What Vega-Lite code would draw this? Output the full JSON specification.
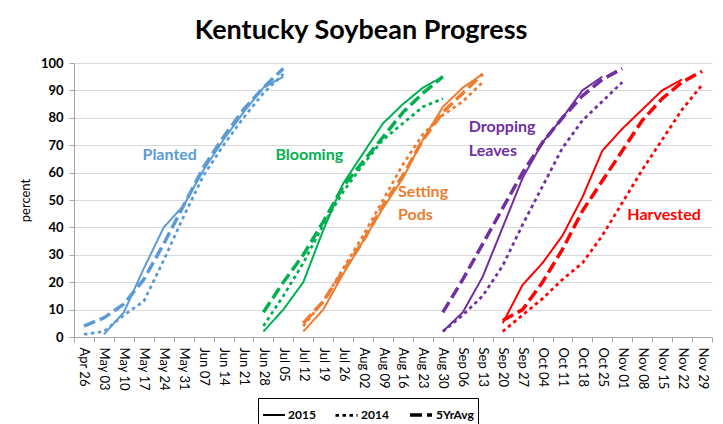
{
  "$schema": "https://vega.github.io/schema/vega-lite/v6.json",
  "width": 638,
  "height": 274,
  "autosize": {"type": "none"},
  "padding": {"left": 74, "top": 63, "right": 11, "bottom": 87},
  "background": "white",
  "title": {"text": "Kentucky Soybean Progress", "font": "Lato", "fontSize": 27, "fontWeight": "bold", "color": "black", "anchor": "middle", "dx": -32, "offset": 12},
  "config": {"view": {"stroke": null}, "font": "Lato"},
  "datasets": {
    "progress": [
      {"stage": "Planted", "series": "5YrAvg", "week": "Apr 26", "pct": 4},
      {"stage": "Planted", "series": "5YrAvg", "week": "May 03", "pct": 7},
      {"stage": "Planted", "series": "5YrAvg", "week": "May 10", "pct": 12},
      {"stage": "Planted", "series": "5YrAvg", "week": "May 17", "pct": 21},
      {"stage": "Planted", "series": "5YrAvg", "week": "May 24", "pct": 34},
      {"stage": "Planted", "series": "5YrAvg", "week": "May 31", "pct": 48},
      {"stage": "Planted", "series": "5YrAvg", "week": "Jun 07", "pct": 62},
      {"stage": "Planted", "series": "5YrAvg", "week": "Jun 14", "pct": 73},
      {"stage": "Planted", "series": "5YrAvg", "week": "Jun 21", "pct": 83},
      {"stage": "Planted", "series": "5YrAvg", "week": "Jun 28", "pct": 91},
      {"stage": "Planted", "series": "5YrAvg", "week": "Jul 05", "pct": 98},
      {"stage": "Planted", "series": "2015", "week": "May 03", "pct": 1},
      {"stage": "Planted", "series": "2015", "week": "May 10", "pct": 9},
      {"stage": "Planted", "series": "2015", "week": "May 17", "pct": 25},
      {"stage": "Planted", "series": "2015", "week": "May 24", "pct": 40},
      {"stage": "Planted", "series": "2015", "week": "May 31", "pct": 48},
      {"stage": "Planted", "series": "2015", "week": "Jun 07", "pct": 61},
      {"stage": "Planted", "series": "2015", "week": "Jun 14", "pct": 72},
      {"stage": "Planted", "series": "2015", "week": "Jun 21", "pct": 82},
      {"stage": "Planted", "series": "2015", "week": "Jun 28", "pct": 91},
      {"stage": "Planted", "series": "2015", "week": "Jul 05", "pct": 95},
      {"stage": "Planted", "series": "2014", "week": "Apr 26", "pct": 1},
      {"stage": "Planted", "series": "2014", "week": "May 03", "pct": 2},
      {"stage": "Planted", "series": "2014", "week": "May 10", "pct": 8},
      {"stage": "Planted", "series": "2014", "week": "May 17", "pct": 13},
      {"stage": "Planted", "series": "2014", "week": "May 24", "pct": 28},
      {"stage": "Planted", "series": "2014", "week": "May 31", "pct": 44},
      {"stage": "Planted", "series": "2014", "week": "Jun 07", "pct": 59},
      {"stage": "Planted", "series": "2014", "week": "Jun 14", "pct": 70},
      {"stage": "Planted", "series": "2014", "week": "Jun 21", "pct": 80},
      {"stage": "Planted", "series": "2014", "week": "Jun 28", "pct": 89},
      {"stage": "Planted", "series": "2014", "week": "Jul 05", "pct": 96},

      {"stage": "Blooming", "series": "5YrAvg", "week": "Jun 28", "pct": 9},
      {"stage": "Blooming", "series": "5YrAvg", "week": "Jul 05", "pct": 20},
      {"stage": "Blooming", "series": "5YrAvg", "week": "Jul 12", "pct": 30},
      {"stage": "Blooming", "series": "5YrAvg", "week": "Jul 19", "pct": 42},
      {"stage": "Blooming", "series": "5YrAvg", "week": "Jul 26", "pct": 55},
      {"stage": "Blooming", "series": "5YrAvg", "week": "Aug 02", "pct": 64},
      {"stage": "Blooming", "series": "5YrAvg", "week": "Aug 09", "pct": 73},
      {"stage": "Blooming", "series": "5YrAvg", "week": "Aug 16", "pct": 82},
      {"stage": "Blooming", "series": "5YrAvg", "week": "Aug 23", "pct": 89},
      {"stage": "Blooming", "series": "5YrAvg", "week": "Aug 30", "pct": 95},
      {"stage": "Blooming", "series": "2015", "week": "Jun 28", "pct": 2},
      {"stage": "Blooming", "series": "2015", "week": "Jul 05", "pct": 10},
      {"stage": "Blooming", "series": "2015", "week": "Jul 12", "pct": 20},
      {"stage": "Blooming", "series": "2015", "week": "Jul 19", "pct": 39},
      {"stage": "Blooming", "series": "2015", "week": "Jul 26", "pct": 56},
      {"stage": "Blooming", "series": "2015", "week": "Aug 02", "pct": 67},
      {"stage": "Blooming", "series": "2015", "week": "Aug 09", "pct": 78},
      {"stage": "Blooming", "series": "2015", "week": "Aug 16", "pct": 85},
      {"stage": "Blooming", "series": "2015", "week": "Aug 23", "pct": 91},
      {"stage": "Blooming", "series": "2015", "week": "Aug 30", "pct": 95},
      {"stage": "Blooming", "series": "2014", "week": "Jun 28", "pct": 4},
      {"stage": "Blooming", "series": "2014", "week": "Jul 05", "pct": 15},
      {"stage": "Blooming", "series": "2014", "week": "Jul 12", "pct": 27},
      {"stage": "Blooming", "series": "2014", "week": "Jul 19", "pct": 41},
      {"stage": "Blooming", "series": "2014", "week": "Jul 26", "pct": 53},
      {"stage": "Blooming", "series": "2014", "week": "Aug 02", "pct": 63},
      {"stage": "Blooming", "series": "2014", "week": "Aug 09", "pct": 72},
      {"stage": "Blooming", "series": "2014", "week": "Aug 16", "pct": 78},
      {"stage": "Blooming", "series": "2014", "week": "Aug 23", "pct": 84},
      {"stage": "Blooming", "series": "2014", "week": "Aug 30", "pct": 87},

      {"stage": "Setting Pods", "series": "5YrAvg", "week": "Jul 12", "pct": 5},
      {"stage": "Setting Pods", "series": "5YrAvg", "week": "Jul 19", "pct": 13},
      {"stage": "Setting Pods", "series": "5YrAvg", "week": "Jul 26", "pct": 24},
      {"stage": "Setting Pods", "series": "5YrAvg", "week": "Aug 02", "pct": 35},
      {"stage": "Setting Pods", "series": "5YrAvg", "week": "Aug 09", "pct": 48},
      {"stage": "Setting Pods", "series": "5YrAvg", "week": "Aug 16", "pct": 59},
      {"stage": "Setting Pods", "series": "5YrAvg", "week": "Aug 23", "pct": 72},
      {"stage": "Setting Pods", "series": "5YrAvg", "week": "Aug 30", "pct": 82},
      {"stage": "Setting Pods", "series": "5YrAvg", "week": "Sep 06", "pct": 89},
      {"stage": "Setting Pods", "series": "5YrAvg", "week": "Sep 13", "pct": 96},
      {"stage": "Setting Pods", "series": "2015", "week": "Jul 12", "pct": 2},
      {"stage": "Setting Pods", "series": "2015", "week": "Jul 19", "pct": 10},
      {"stage": "Setting Pods", "series": "2015", "week": "Jul 26", "pct": 23},
      {"stage": "Setting Pods", "series": "2015", "week": "Aug 02", "pct": 35},
      {"stage": "Setting Pods", "series": "2015", "week": "Aug 09", "pct": 47},
      {"stage": "Setting Pods", "series": "2015", "week": "Aug 16", "pct": 58},
      {"stage": "Setting Pods", "series": "2015", "week": "Aug 23", "pct": 72},
      {"stage": "Setting Pods", "series": "2015", "week": "Aug 30", "pct": 84},
      {"stage": "Setting Pods", "series": "2015", "week": "Sep 06", "pct": 91},
      {"stage": "Setting Pods", "series": "2015", "week": "Sep 13", "pct": 96},
      {"stage": "Setting Pods", "series": "2014", "week": "Jul 12", "pct": 4},
      {"stage": "Setting Pods", "series": "2014", "week": "Jul 19", "pct": 13},
      {"stage": "Setting Pods", "series": "2014", "week": "Jul 26", "pct": 25},
      {"stage": "Setting Pods", "series": "2014", "week": "Aug 02", "pct": 37},
      {"stage": "Setting Pods", "series": "2014", "week": "Aug 09", "pct": 50},
      {"stage": "Setting Pods", "series": "2014", "week": "Aug 16", "pct": 63},
      {"stage": "Setting Pods", "series": "2014", "week": "Aug 23", "pct": 74},
      {"stage": "Setting Pods", "series": "2014", "week": "Aug 30", "pct": 81},
      {"stage": "Setting Pods", "series": "2014", "week": "Sep 06", "pct": 86},
      {"stage": "Setting Pods", "series": "2014", "week": "Sep 13", "pct": 93},

      {"stage": "Dropping Leaves", "series": "5YrAvg", "week": "Aug 30", "pct": 9},
      {"stage": "Dropping Leaves", "series": "5YrAvg", "week": "Sep 06", "pct": 21},
      {"stage": "Dropping Leaves", "series": "5YrAvg", "week": "Sep 13", "pct": 34},
      {"stage": "Dropping Leaves", "series": "5YrAvg", "week": "Sep 20", "pct": 47},
      {"stage": "Dropping Leaves", "series": "5YrAvg", "week": "Sep 27", "pct": 60},
      {"stage": "Dropping Leaves", "series": "5YrAvg", "week": "Oct 04", "pct": 71},
      {"stage": "Dropping Leaves", "series": "5YrAvg", "week": "Oct 11", "pct": 80},
      {"stage": "Dropping Leaves", "series": "5YrAvg", "week": "Oct 18", "pct": 88},
      {"stage": "Dropping Leaves", "series": "5YrAvg", "week": "Oct 25", "pct": 94},
      {"stage": "Dropping Leaves", "series": "5YrAvg", "week": "Nov 01", "pct": 98},
      {"stage": "Dropping Leaves", "series": "2015", "week": "Aug 30", "pct": 2},
      {"stage": "Dropping Leaves", "series": "2015", "week": "Sep 06", "pct": 9},
      {"stage": "Dropping Leaves", "series": "2015", "week": "Sep 13", "pct": 22},
      {"stage": "Dropping Leaves", "series": "2015", "week": "Sep 20", "pct": 40},
      {"stage": "Dropping Leaves", "series": "2015", "week": "Sep 27", "pct": 58},
      {"stage": "Dropping Leaves", "series": "2015", "week": "Oct 04", "pct": 71},
      {"stage": "Dropping Leaves", "series": "2015", "week": "Oct 11", "pct": 80},
      {"stage": "Dropping Leaves", "series": "2015", "week": "Oct 18", "pct": 90},
      {"stage": "Dropping Leaves", "series": "2015", "week": "Oct 25", "pct": 95},
      {"stage": "Dropping Leaves", "series": "2014", "week": "Aug 30", "pct": 2},
      {"stage": "Dropping Leaves", "series": "2014", "week": "Sep 06", "pct": 8},
      {"stage": "Dropping Leaves", "series": "2014", "week": "Sep 13", "pct": 15},
      {"stage": "Dropping Leaves", "series": "2014", "week": "Sep 20", "pct": 26},
      {"stage": "Dropping Leaves", "series": "2014", "week": "Sep 27", "pct": 41},
      {"stage": "Dropping Leaves", "series": "2014", "week": "Oct 04", "pct": 55},
      {"stage": "Dropping Leaves", "series": "2014", "week": "Oct 11", "pct": 69},
      {"stage": "Dropping Leaves", "series": "2014", "week": "Oct 18", "pct": 79},
      {"stage": "Dropping Leaves", "series": "2014", "week": "Oct 25", "pct": 86},
      {"stage": "Dropping Leaves", "series": "2014", "week": "Nov 01", "pct": 93},

      {"stage": "Harvested", "series": "5YrAvg", "week": "Sep 20", "pct": 6},
      {"stage": "Harvested", "series": "5YrAvg", "week": "Sep 27", "pct": 10},
      {"stage": "Harvested", "series": "5YrAvg", "week": "Oct 04", "pct": 20},
      {"stage": "Harvested", "series": "5YrAvg", "week": "Oct 11", "pct": 32},
      {"stage": "Harvested", "series": "5YrAvg", "week": "Oct 18", "pct": 46},
      {"stage": "Harvested", "series": "5YrAvg", "week": "Oct 25", "pct": 57},
      {"stage": "Harvested", "series": "5YrAvg", "week": "Nov 01", "pct": 68},
      {"stage": "Harvested", "series": "5YrAvg", "week": "Nov 08", "pct": 79},
      {"stage": "Harvested", "series": "5YrAvg", "week": "Nov 15", "pct": 87},
      {"stage": "Harvested", "series": "5YrAvg", "week": "Nov 22", "pct": 93},
      {"stage": "Harvested", "series": "5YrAvg", "week": "Nov 29", "pct": 97},
      {"stage": "Harvested", "series": "2015", "week": "Sep 20", "pct": 5},
      {"stage": "Harvested", "series": "2015", "week": "Sep 27", "pct": 19},
      {"stage": "Harvested", "series": "2015", "week": "Oct 04", "pct": 27},
      {"stage": "Harvested", "series": "2015", "week": "Oct 11", "pct": 37},
      {"stage": "Harvested", "series": "2015", "week": "Oct 18", "pct": 51},
      {"stage": "Harvested", "series": "2015", "week": "Oct 25", "pct": 68},
      {"stage": "Harvested", "series": "2015", "week": "Nov 01", "pct": 76},
      {"stage": "Harvested", "series": "2015", "week": "Nov 08", "pct": 83},
      {"stage": "Harvested", "series": "2015", "week": "Nov 15", "pct": 90},
      {"stage": "Harvested", "series": "2015", "week": "Nov 22", "pct": 94},
      {"stage": "Harvested", "series": "2014", "week": "Sep 20", "pct": 2},
      {"stage": "Harvested", "series": "2014", "week": "Sep 27", "pct": 8},
      {"stage": "Harvested", "series": "2014", "week": "Oct 04", "pct": 14},
      {"stage": "Harvested", "series": "2014", "week": "Oct 11", "pct": 21},
      {"stage": "Harvested", "series": "2014", "week": "Oct 18", "pct": 27},
      {"stage": "Harvested", "series": "2014", "week": "Oct 25", "pct": 37},
      {"stage": "Harvested", "series": "2014", "week": "Nov 01", "pct": 49},
      {"stage": "Harvested", "series": "2014", "week": "Nov 08", "pct": 61},
      {"stage": "Harvested", "series": "2014", "week": "Nov 15", "pct": 72},
      {"stage": "Harvested", "series": "2014", "week": "Nov 22", "pct": 83},
      {"stage": "Harvested", "series": "2014", "week": "Nov 29", "pct": 92}
    ],
    "labels": [
      {"stage": "Planted", "text": "Planted", "week": "May 24", "pct": 66.4},
      {"stage": "Blooming", "text": "Blooming", "week": "Jul 12", "pct": 66.4},
      {"stage": "Setting Pods", "text": "Setting", "week": "Aug 16", "pct": 53},
      {"stage": "Setting Pods", "text": "Pods", "week": "Aug 16", "pct": 44.5},
      {"stage": "Dropping Leaves", "text": "Dropping", "week": "Sep 06", "pct": 76.6},
      {"stage": "Dropping Leaves", "text": "Leaves", "week": "Sep 06", "pct": 68},
      {"stage": "Harvested", "text": "Harvested", "week": "Nov 01", "pct": 44.5}
    ]
  },
  "encoding": {
    "x": {
      "field": "week", "type": "nominal", "sort": null,
      "scale": {"type": "band", "paddingInner": 0, "paddingOuter": 0,
        "domain": ["Apr 26","May 03","May 10","May 17","May 24","May 31","Jun 07","Jun 14","Jun 21","Jun 28","Jul 05","Jul 12","Jul 19","Jul 26","Aug 02","Aug 09","Aug 16","Aug 23","Aug 30","Sep 06","Sep 13","Sep 20","Sep 27","Oct 04","Oct 11","Oct 18","Oct 25","Nov 01","Nov 08","Nov 15","Nov 22","Nov 29"]},
      "axis": {"title": null, "labelAngle": 90, "labelAlign": "left", "labelBaseline": "middle", "labelFontSize": 13, "labelFont": "Lato", "labelColor": "black", "labelPadding": 5, "tickBand": "extent", "tickSize": 5, "tickColor": "#A6A6A6", "domainColor": "#A6A6A6", "grid": false}
    },
    "y": {
      "field": "pct", "type": "quantitative",
      "scale": {"domain": [0, 100]},
      "axis": {"title": "percent", "titleFont": "Lato", "titleFontSize": 13, "titleFontWeight": "normal", "titleColor": "black", "titlePadding": 8, "values": [0,10,20,30,40,50,60,70,80,90,100], "labelFont": "Lato", "labelFontSize": 13, "labelFontWeight": "bold", "labelColor": "black", "labelPadding": 6, "tickSize": 5, "tickColor": "#A6A6A6", "domainColor": "#A6A6A6", "gridColor": "#D9D9D9", "gridWidth": 1}
    },
    "color": {
      "field": "stage", "type": "nominal", "legend": null,
      "scale": {"domain": ["Planted","Blooming","Setting Pods","Dropping Leaves","Harvested"], "range": ["#5B9BD5","#00B050","#ED7D31","#7030A0","#FF0000"]}
    }
  },
  "layer": [
    {
      "data": {"name": "progress"},
      "mark": {"type": "line", "strokeCap": "butt", "strokeJoin": "round"},
      "encoding": {
        "strokeDash": {"field": "series", "type": "nominal",
          "scale": {"domain": ["2015","2014","5YrAvg"], "range": [[1,0],[3.5,3.5],[12,5]]},
          "legend": {"orient": "none", "legendX": 184, "legendY": 335, "direction": "horizontal", "title": null, "symbolType": "stroke", "symbolStrokeColor": "black", "symbolSize": 484, "labelFont": "Lato", "labelFontSize": 12, "labelFontWeight": "bold", "labelColor": "black", "strokeColor": "black", "padding": 4, "columnPadding": 14, "labelOffset": 2}},
        "strokeWidth": {"field": "series", "type": "nominal",
          "scale": {"domain": ["2015","2014","5YrAvg"], "range": [2, 3.5, 4]},
          "legend": null}
      }
    },
    {
      "data": {"name": "labels"},
      "transform": [{"filter": "datum.stage === 'Planted'"}],
      "mark": {"type": "text", "font": "Lato", "fontSize": 16, "fontWeight": "bold", "align": "center", "baseline": "middle", "dx": 6},
      "encoding": {"text": {"field": "text"}}
    },
    {
      "data": {"name": "labels"},
      "transform": [{"filter": "datum.stage === 'Blooming'"}],
      "mark": {"type": "text", "font": "Lato", "fontSize": 16, "fontWeight": "bold", "align": "center", "baseline": "middle", "dx": 6},
      "encoding": {"text": {"field": "text"}}
    },
    {
      "data": {"name": "labels"},
      "transform": [{"filter": "datum.stage === 'Setting Pods'"}],
      "mark": {"type": "text", "font": "Lato", "fontSize": 16, "fontWeight": "bold", "align": "left", "baseline": "middle", "dx": -5},
      "encoding": {"text": {"field": "text"}}
    },
    {
      "data": {"name": "labels"},
      "transform": [{"filter": "datum.stage === 'Dropping Leaves'"}],
      "mark": {"type": "text", "font": "Lato", "fontSize": 16, "fontWeight": "bold", "align": "left", "baseline": "middle", "dx": 6},
      "encoding": {"text": {"field": "text"}}
    },
    {
      "data": {"name": "labels"},
      "transform": [{"filter": "datum.stage === 'Harvested'"}],
      "mark": {"type": "text", "font": "Lato", "fontSize": 16, "fontWeight": "bold", "align": "left", "baseline": "middle", "dx": 5},
      "encoding": {"text": {"field": "text"}}
    }
  ]
}
